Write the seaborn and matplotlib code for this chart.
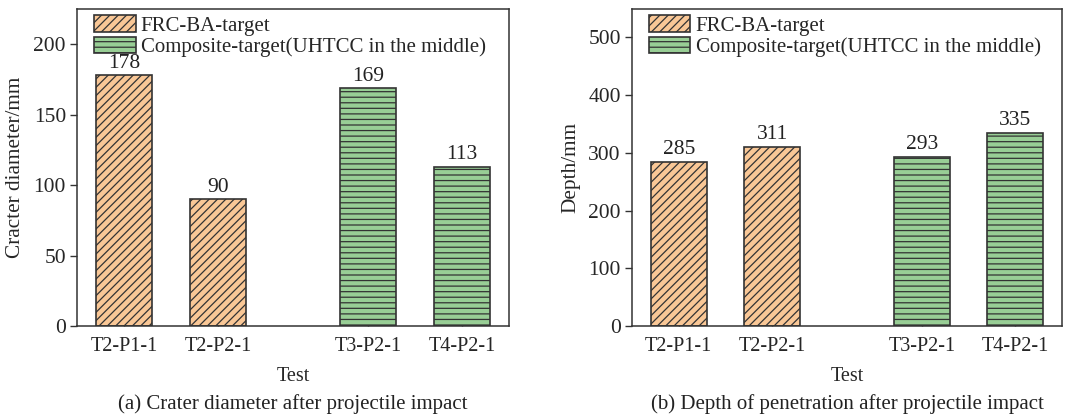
import matplotlib
matplotlib.use("Agg")
import matplotlib.pyplot as plt
import seaborn as sns
import pandas as pd

tests = ["T2-P1-1", "T2-P2-1", "T3-P2-1", "T4-P2-1"]
groups = ["FRC-BA-target", "FRC-BA-target",
          "Composite-target(UHTCC in the middle)",
          "Composite-target(UHTCC in the middle)"]
crater = [178, 90, 169, 113]
depth = [285, 311, 293, 335]

# layout (slot positions with a gap between groups)
slots = [0, 1, 2.6, 3.6]

sns.set_style("ticks")
plt.rcParams["font.family"] = ["Liberation Serif", "DejaVu Serif"]
plt.rcParams["hatch.linewidth"] = 0.9
plt.rcParams["hatch.color"] = "#222222"

colors = {"FRC-BA-target": "#F9C796",
          "Composite-target(UHTCC in the middle)": "#98CE95"}
hatches = {"FRC-BA-target": "////",
           "Composite-target(UHTCC in the middle)": "---"}

fig = plt.figure(figsize=(10.67, 4.17), dpi=100)
ax1 = fig.add_axes([0.0722, 0.218, 0.4048, 0.760])
ax2 = fig.add_axes([0.5923, 0.218, 0.4030, 0.760])

def draw(ax, vals, ylabel, ylim, yticks, caption):
    df = pd.DataFrame({"pos": slots, "val": vals, "group": groups})
    sns.barplot(data=df, x="pos", y="val", hue="group", native_scale=True,
                dodge=False, width=0.6, palette=colors, saturation=1,
                edgecolor="#333333", linewidth=1.2, ax=ax, legend=False,
                hue_order=list(colors.keys()))
    handles = []
    for cont, g in zip(ax.containers, colors.keys()):
        for p in cont.patches:
            p.set_hatch(hatches[g])
        handles.append(cont)
    for p, v in zip(slots, vals):
        ax.text(p, v + ylim[1] * 0.008, f"{v}", ha="center", va="bottom",
                fontsize=15.5, color="#222222")
    ax.set_xlim(-0.5, 4.1)
    ax.set_ylim(*ylim)
    ax.set_yticks(yticks)
    ax.set_xticks(slots)
    ax.set_xticklabels(tests)
    ax.tick_params(axis="x", direction="in", length=5, width=1,
                   labelsize=14.5, color="#333333", pad=8)
    ax.tick_params(axis="y", direction="out", length=5, width=1,
                   labelsize=15.5, color="#333333", pad=3)
    ax.set_xlabel("Test", fontsize=14.5, labelpad=8)
    ax.set_ylabel(ylabel, fontsize=15.3, labelpad=6)
    for s in ax.spines.values():
        s.set_visible(True)
        s.set_color("#333333")
        s.set_linewidth(1.1)
    ax.legend(handles, list(colors.keys()), loc="upper left",
              bbox_to_anchor=(0.039, 0.982), frameon=False,
              fontsize=15, handlelength=2.0, handleheight=0.87,
              labelspacing=0.05, handletextpad=0.25, borderaxespad=0,
              borderpad=0)
    bb = ax.get_position()
    fig.text((bb.x0 + bb.x1) / 2, 0.03, caption, ha="center", va="center",
             fontsize=15, color="#222222")

draw(ax1, crater, "Cracter diameter/mm", (0, 225), [0, 50, 100, 150, 200],
     "(a) Crater diameter after projectile impact")
draw(ax2, depth, "Depth/mm", (0, 549), [0, 100, 200, 300, 400, 500],
     "(b) Depth of penetration after projectile impact")

fig.savefig("out.png", dpi=100)
